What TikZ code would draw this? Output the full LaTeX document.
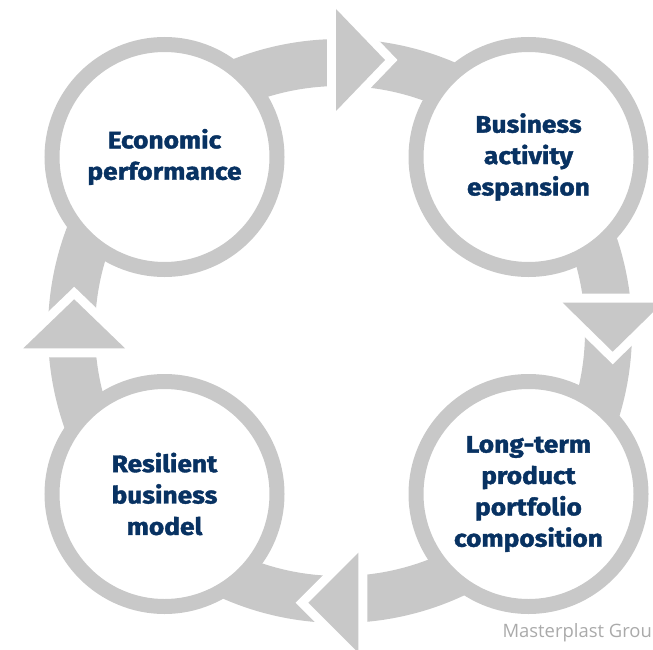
\documentclass[tikz,border=0pt]{standalone}
\usepackage{fontspec}
\setmainfont{Fira Sans}[BoldFeatures={FakeBold=1.6, FakeStretch=1.1}]
\newfontfamily\notefont{Open Sans}
\usepackage{tikz}
\definecolor{ringgray}{RGB}{200,200,200}
\definecolor{stagenavy}{RGB}{8,50,98}
\definecolor{notegray}{RGB}{170,170,170}
\tikzset{
  stage/.style={circle, draw=ringgray, line width=15bp, fill=white, minimum size=225bp,
    inner sep=0pt, align=center, text=stagenavy, font=\fontsize{24}{31.5}\selectfont\bfseries},
  head/.style={fill=ringgray, preaction={draw=white, line width=18bp, line join=miter}}
}

\begin{document}
\begin{tikzpicture}[x=1bp, y=-1bp]
\useasboundingbox (0,0) rectangle (653,650);
\begin{scope}
\clip (0,0) rectangle (653,650);
\draw[ringgray, line width=47bp] (340,331) circle (268.5bp);
\path[head] (336,9) -- (385,60) -- (336,111) -- cycle;
\path[head] (562.7,302.7) -- (612.7,351.7) -- (662.7,302.7) -- cycle;
\path[head] (358.3,552.7) -- (308.3,602.7) -- (358.3,652.7) -- cycle;
\path[head] (23.3,348.3) -- (74.2,299.3) -- (125,348.3) -- cycle;
\end{scope}
\node[stage] (econ) at (164.5,157) {Economic\\performance};
\node[stage] (expand) at (528.5,157) {Business\\activity\\espansion};
\node[stage] (portfolio) at (528.5,494) {Long-term\\product\\portfolio\\composition};
\node[stage] (resilient) at (164.5,494) {Resilient\\business\\model};
\node[anchor=base west, text=notegray, font=\notefont\fontsize{18.5}{22}\selectfont] (source) at (499,637) {Masterplast Grou};
\end{tikzpicture}
\end{document}
